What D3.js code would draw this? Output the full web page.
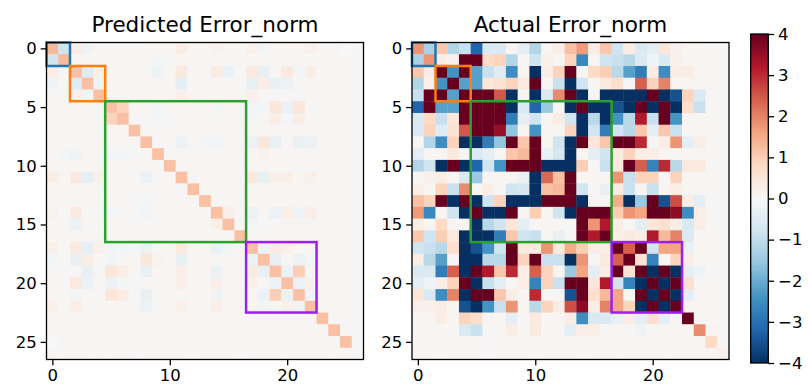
<!DOCTYPE html>
<html>
<head>
<meta charset="utf-8">
<script src="https://cdn.jsdelivr.net/npm/d3@7"></script>
<style>
  body { margin: 0; background: #fff; }
  svg { display: block; font-family: "DejaVu Sans", sans-serif; }
</style>
</head>
<body>
<svg id="chart" width="808" height="389"></svg>
<script>
// both matrices are symmetric: row r lists the values of columns r..26
const predictedUpper = [
  [1.3,-0.8,0.3,-0.2,0.05,0.05,0.05,0.05,0.1,0.05,0.1,0.3,0.1,0.05,0.15,0.1,0.05,0.2,-0.1,0.05,0.1,0.1,0.2,0.05,0.05,0,0.05],
  [1.3,0.05,0.05,0.05,0.05,0.05,0.05,0.05,-0.1,0.05,0.1,0.05,0.05,0.05,0.05,0.05,0.05,0.05,0.05,0.05,0.05,0.05,0.05,0.05,0.05,0.05],
  [1.2,-0.5,0.2,0.05,0.05,0.05,0.05,-0.2,0.1,0.4,0.05,0.05,0.35,-0.25,0.05,0.4,-0.3,0.05,0.4,-0.1,0.3,0.05,0.05,0.05,0.05],
  [1.2,-0.2,0.05,0.1,0.05,0.05,0.1,0.05,-0.4,0.05,0.05,0.05,0.05,0.05,-0.35,0.3,-0.3,-0.25,0.05,0.05,0.05,0.05,0.05,0.05],
  [1.2,0.05,0.05,0.05,0.1,0.05,0.05,0.2,0.05,0.05,0.05,0.05,0.05,0.2,0.05,0.05,0.05,0.05,0.05,0.05,0.05,0.05,0.05],
  [1.2,0.9,0.1,0.05,-0.1,0.1,0.05,0.1,0.1,-0.1,0.1,0.05,-0.15,-0.15,0.5,-0.25,0.5,0.05,0.05,0.05,0.05,0.05],
  [1.2,0.05,0.05,-0.1,0.05,0.05,0.05,0.05,0.05,0.05,0.05,-0.1,0.1,0.3,-0.1,0.3,0.05,0.05,0.05,0.05,0.05],
  [1.2,0.05,0.05,0.05,0.05,0.05,0.05,0.05,0.05,0.05,0.05,0.05,0.05,0.05,0.05,0.05,0.05,0.05,0.05,0.05],
  [1.2,0.05,0.05,-0.25,0.05,-0.1,-0.15,0.05,0.05,-0.25,0.45,-0.3,0.05,-0.3,-0.25,0.05,0.05,0.05,0.05],
  [1.2,0.05,0.05,0.05,0.05,0.05,0.05,0.05,0.05,0.15,0.1,0.05,0.1,0.05,0.05,0.05,0.05,0.05],
  [1.2,0.05,0.05,0.05,0.05,0.05,0.05,0.05,0.05,0.05,0.05,0.05,0.05,0.05,0.05,0.05,0.05],
  [1.2,0.05,0.1,0.05,0.05,0.05,0.4,-0.3,0.25,0.25,0.1,0.2,0.05,0.05,0.05,0.05],
  [1.2,0.05,0.05,0.05,0.05,0.05,0.05,0.05,0.05,0.05,0.05,0.05,0.05,0.05,0.05],
  [1.2,0.05,0.05,0.05,0.1,0.05,0.1,0.05,0.1,0.05,0.05,0.05,0.05,0.05],
  [1.2,0.25,0.05,-0.25,0.05,-0.25,0.25,-0.2,0.25,0.05,0.05,0.05,0.05],
  [1.2,0.05,-0.1,0.05,0.05,0.05,0.05,0.05,0.05,0.05,0.05,0.05],
  [1.2,0.05,0.05,0.05,0.05,0.05,0.05,0.05,0.05,0.05,0.05],
  [1.2,-0.25,0.35,0.2,0.05,0.05,0.05,0.05,0.05,0.05],
  [1.2,-0.3,0.05,-0.25,-0.1,0.05,0.05,0.05,0.05],
  [1.2,-0.25,1.0,0.05,0.05,0.05,0.05,0.05],
  [1.2,-0.25,0.2,0.05,0.05,0.05,0.05],
  [1.2,-0.15,0.05,0.05,0.05,0.05],
  [1.2,0.05,0.05,0.05,0.05],
  [1.2,0.05,0.05,0.05],
  [1.2,0.05,0.05],
  [1.2,0.05],
  [0.05]
];

const actualUpper = [
  [1.8,-1.3,1.1,-1.2,-0.9,-3.2,-0.6,-0.6,0.1,-0.4,-1.2,0.1,0.3,1.2,1.7,0.3,1.1,-0.8,0.3,-0.6,-0.4,0.5,0.2,0.1,0.05,0.05,0.05],
  [1.8,0.3,0.2,4,4,0.8,0.9,-1.2,0.1,-0.8,0.2,0.1,0.9,-2.6,0.1,-0.8,-0.9,-1.1,-0.6,-0.2,-0.6,0.2,0.1,0.05,0.05,0.05],
  [4,-2.4,4,-2.2,-0.9,-0.5,-2.5,0.1,-4,0.3,0.9,4,0.05,0.8,1.0,-1.1,-2.2,-2.8,0.3,-2.5,0.3,0.3,0.1,0.05,0.05],
  [4,-2.2,-2.2,0.5,0.6,0.9,0.4,4,0.1,-0.9,-4,-0.8,0.05,0.4,0.7,0.05,2.4,0.9,2.0,0.1,0.1,0.05,0.05,0.05],
  [4,4,4,2.5,-4,0.05,-4,-0.6,1.9,4,-4,0.05,-4,-4,-4,-4,4,-4,-3.5,0.9,-0.6,0.05,0.05],
  [4,4,4,-4,-0.6,-3.2,-1.5,0.1,-4,4,-4,-4,-3.5,-4,4,-4,4,-4,0.7,-0.9,0.05,0.05],
  [4,4,-2.8,-0.4,-0.8,0.1,0.3,-0.8,-4,-1.1,-4,-2.4,-1.1,3.2,-0.9,4,-2.4,0.1,0.05,0.05,0.05],
  [3.5,-1.6,0.1,-2.4,0.1,0.05,0.9,-4,-0.8,-2.8,-0.8,-1.1,1.1,-0.4,1.1,-0.9,0.1,0.05,0.05,0.05],
  [4,1.1,4,0.1,-0.8,-4,4,0.5,1.1,4,4,3.0,0.05,0.3,1.8,-0.4,0.3,0.05,0.05],
  [1.3,4,-0.3,-0.7,-4,0.1,-0.4,-0.8,0.4,0.9,0.3,0.3,0.1,0.1,0.05,0.05,0.05,0.05],
  [4,-4,-4,-4,1.0,0.05,-0.9,0.4,4,2.4,-2.7,3.0,-1.1,0.4,0.4,0.05,0.05],
  [2.3,1.2,4,0.1,0.1,0.05,1.8,-0.9,0.9,0.9,0.05,0.9,0.1,0.05,0.05,0.05],
  [1.3,4,-0.8,0.05,-0.3,0.4,-0.9,0.1,-0.9,0.1,0.3,0.05,0.05,0.05,0.05],
  [4,-4,0.05,0.05,1.5,-4,-1.5,4,-3.5,2.6,0.3,-0.4,0.05,0.05],
  [4,4,4,1.0,1.8,1.6,4,4,3.6,-2.5,0.3,0.05,0.05],
  [1.8,3.2,0.3,0.05,-0.4,0.5,0.7,0.3,-0.6,0.3,0.05,0.05],
  [4,0.3,0.4,0.3,3.2,1.3,2.0,-0.6,0.05,0.05,0.05],
  [4,2.4,4,-0.8,1.6,1.6,-0.3,0.1,0.05,0.05],
  [4,0.6,-2.7,0.05,0.9,0.3,0.05,0.05,0.05],
  [4,-4,4,-4,-0.4,-0.2,0.05,0.05],
  [4,-4,4,0.7,0.1,0.05,0.05],
  [4,-4,-0.4,0.05,0.05,0.05],
  [4,0.1,0.1,0.05,0.05],
  [4,0.05,0.1,0.05],
  [1.9,0.1,0.05],
  [0.8,0.05],
  [0.2]
];

const titles = ["Predicted Error_norm", "Actual Error_norm"];
const xTicks = [0, 10, 20];
const yTicks = [0, 5, 10, 15, 20, 25];
const cbarTicks = [-4, -3, -2, -1, 0, 1, 2, 3, 4];
const blocks = [[0, 1], [2, 4], [5, 16], [17, 22]];
const blockColors = ["#1f77b4", "#ff7f0e", "#2ca02c", "#9b1ff0"];
const rdbuR = ["#053061", "#2166ac", "#4393c3", "#92c5de", "#d1e5f0", "#f7f7f7",
               "#fddbc7", "#f4a582", "#d6604d", "#b2182b", "#67001f"];

function fullMatrix(upper) {
  const n = upper.length;
  const m = d3.range(n).map(() => new Array(n));
  upper.forEach((row, r) => row.forEach((v, k) => {
    m[r][r + k] = v;
    m[r + k][r] = v;
  }));
  return m;
}

const svg = d3.select("#chart");
const size = 317;
const plotTop = 42.5;
const fontSize = "16.5px";

const color = d3.scaleLinear()
  .domain(d3.range(rdbuR.length).map(i => -4 + 8 * i / (rdbuR.length - 1)))
  .range(rdbuR)
  .clamp(true);

const panels = [
  { left: 46.5, title: titles[0], matrix: fullMatrix(predictedUpper) },
  { left: 412, title: titles[1], matrix: fullMatrix(actualUpper) }
];

panels.forEach(p => {
  const n = p.matrix.length;
  const band = d3.scaleBand().domain(d3.range(n)).range([0, size]);
  const lin = d3.scaleLinear().domain([-0.5, n - 0.5]).range([0, size]);
  const g = svg.append("g").attr("transform", `translate(${p.left},${plotTop})`);

  const cells = p.matrix.flatMap((row, r) => row.map((v, c) => ({ r, c, v })));
  g.selectAll("rect.cell")
    .data(cells)
    .enter()
    .append("rect")
    .attr("class", "cell")
    .attr("x", d => band(d.c))
    .attr("y", d => band(d.r))
    .attr("width", band.bandwidth() + 0.4)
    .attr("height", band.bandwidth() + 0.4)
    .attr("fill", d => color(d.v));

  g.selectAll("rect.block")
    .data(blocks)
    .enter()
    .append("rect")
    .attr("class", "block")
    .attr("x", d => lin(d[0] - 0.5))
    .attr("y", d => lin(d[0] - 0.5))
    .attr("width", d => lin(d[1] + 0.5) - lin(d[0] - 0.5))
    .attr("height", d => lin(d[1] + 0.5) - lin(d[0] - 0.5))
    .attr("fill", "none")
    .attr("stroke", (d, i) => blockColors[i])
    .attr("stroke-width", 2.5);

  g.append("rect")
    .attr("width", size)
    .attr("height", size)
    .attr("fill", "none")
    .attr("stroke", "#000")
    .attr("stroke-width", 1.3);

  const yAxis = g.append("g")
    .call(d3.axisLeft(lin).tickValues(yTicks).tickSize(5.8).tickPadding(4));
  const xAxis = g.append("g")
    .attr("transform", `translate(0,${size})`)
    .call(d3.axisBottom(lin).tickValues(xTicks).tickSize(5.8).tickPadding(4));
  [yAxis, xAxis].forEach(a => {
    a.select(".domain").remove();
    a.selectAll("line").attr("stroke", "#000").attr("stroke-width", 1.3);
    a.selectAll("text")
      .attr("fill", "#000")
      .style("font-family", "DejaVu Sans, sans-serif")
      .style("font-size", fontSize);
  });

  g.append("text")
    .attr("x", size / 2)
    .attr("y", 31.5 - plotTop)
    .attr("text-anchor", "middle")
    .style("font-size", "21.5px")
    .text(p.title);
});

// colorbar
const cb = { x: 750.7, y0: 34, y1: 363, w: 17.6 };
const cbScale = d3.scaleLinear().domain([-4, 4]).range([cb.y1, cb.y0]);

const grad = svg.append("defs")
  .append("linearGradient")
  .attr("id", "cbar")
  .attr("x1", 0).attr("y1", 1)
  .attr("x2", 0).attr("y2", 0);
grad.selectAll("stop")
  .data(color.domain())
  .enter()
  .append("stop")
  .attr("offset", d => (d + 4) / 8)
  .attr("stop-color", d => color(d));

svg.append("rect")
  .attr("x", cb.x)
  .attr("y", cb.y0)
  .attr("width", cb.w)
  .attr("height", cb.y1 - cb.y0)
  .attr("fill", "url(#cbar)")
  .attr("stroke", "#000")
  .attr("stroke-width", 1.3);

const cbAxis = svg.append("g")
  .attr("transform", `translate(${cb.x + cb.w},0)`)
  .call(d3.axisRight(cbScale).tickValues(cbarTicks).tickSize(5.8).tickPadding(4));
cbAxis.select(".domain").remove();
cbAxis.selectAll("line").attr("stroke", "#000").attr("stroke-width", 1.3);
cbAxis.selectAll("text")
  .attr("fill", "#000")
  .style("font-family", "DejaVu Sans, sans-serif")
  .style("font-size", fontSize);
</script>
</body>
</html>
